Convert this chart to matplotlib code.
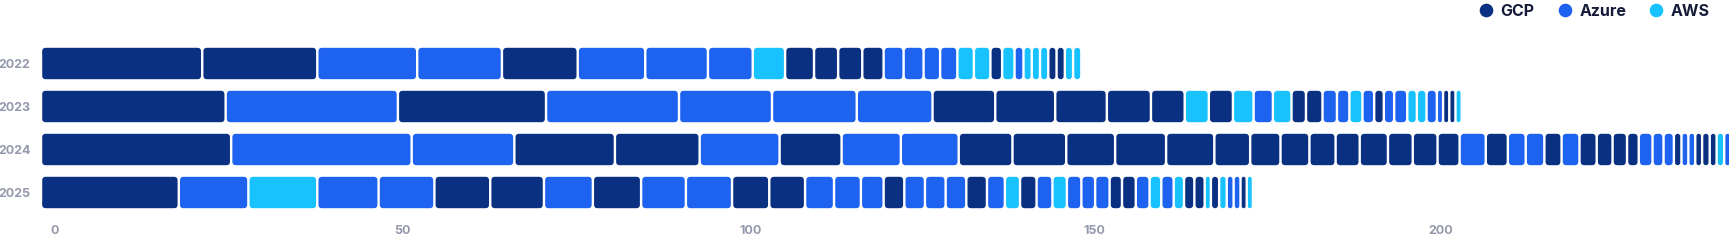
import matplotlib
matplotlib.use('Agg')
import matplotlib.pyplot as plt
import numpy as np
from matplotlib.patches import FancyBboxPatch
from matplotlib.lines import Line2D
from matplotlib.transforms import ScaledTranslation

# data
years = ['2022', '2023', '2024', '2025']
providers = ['GCP', 'Azure', 'AWS']

vals_2022 = [23.4, 16.7, 14.5, 12.3, 11.0, 9.8, 9.1, 6.5, 4.7, 4.2, 3.5, 3.5, 3.1, 2.9, 2.9,
             2.4, 2.5, 2.4, 2.4, 1.7, 1.8, 1.3, 1.2, 1.2, 1.2, 1.2, 1.2, 1.2, 1.2]
prov_2022 = ['GCP', 'GCP', 'Azure', 'Azure', 'GCP', 'Azure', 'Azure', 'Azure', 'AWS', 'GCP',
             'GCP', 'GCP', 'GCP', 'Azure', 'Azure', 'Azure', 'Azure', 'AWS', 'AWS', 'GCP',
             'AWS', 'Azure', 'AWS', 'AWS', 'AWS', 'GCP', 'GCP', 'AWS', 'AWS']

vals_2023 = [26.8, 25.0, 21.5, 19.3, 13.5, 12.3, 11.0, 9.1, 8.7, 7.5, 6.4, 4.9, 3.5, 3.5, 3.0,
             2.8, 2.7, 2.1, 2.4, 2.1, 1.8, 1.9, 1.7, 1.4, 1.5, 1.9, 1.4, 1.4, 1.5, 0.9, 0.9,
             0.9, 0.9]
prov_2023 = ['GCP', 'Azure', 'GCP', 'Azure', 'Azure', 'Azure', 'Azure', 'GCP', 'GCP', 'GCP',
             'GCP', 'GCP', 'AWS', 'GCP', 'AWS', 'Azure', 'AWS', 'GCP', 'GCP', 'Azure', 'Azure',
             'AWS', 'Azure', 'GCP', 'Azure', 'Azure', 'AWS', 'AWS', 'Azure', 'Azure', 'GCP',
             'GCP', 'AWS']

vals_2024 = [27.6, 26.2, 14.9, 14.6, 12.3, 11.6, 9.0, 8.6, 8.4, 7.8, 7.8, 7.1, 7.4, 7.0, 5.2,
             4.4, 4.2, 3.8, 3.5, 4.1, 3.6, 3.6, 3.2, 3.8, 3.2, 2.6, 2.7, 2.5, 2.6, 2.5, 2.3,
             2.1, 1.7, 2.0, 1.6, 1.5, 1.1, 1.0, 1.0, 1.0, 1.1, 1.0, 1.1, 1.0]
prov_2024 = ['GCP', 'Azure', 'Azure', 'GCP', 'GCP', 'Azure', 'GCP', 'Azure', 'Azure'] + \
            ['GCP'] * 14 + ['Azure', 'GCP', 'Azure', 'Azure', 'GCP', 'Azure'] + ['GCP'] * 4 + \
            ['Azure'] * 3 + ['GCP', 'Azure', 'Azure'] + ['GCP'] * 3 + ['AWS', 'Azure']

vals_2025 = [20.0, 10.1, 10.0, 8.9, 8.1, 8.1, 7.8, 7.1, 7.0, 6.5, 6.7, 5.4, 5.2, 4.2, 3.9,
             3.3, 3.0, 3.0, 3.0, 3.0, 3.0, 2.6, 2.2, 2.4, 2.3, 2.1, 2.1, 2.0, 2.1, 1.8, 2.0,
             2.0, 1.7, 1.8, 1.5, 1.5, 1.5, 0.9, 1.2, 1.1, 1.0, 1.0, 0.9, 0.9]
prov_2025 = ['GCP', 'Azure', 'AWS', 'Azure', 'Azure', 'GCP', 'GCP', 'Azure', 'GCP', 'Azure',
             'Azure', 'GCP', 'GCP', 'Azure', 'Azure', 'Azure', 'GCP', 'Azure', 'Azure', 'Azure',
             'GCP', 'Azure', 'AWS', 'GCP', 'Azure', 'AWS', 'Azure', 'Azure', 'Azure', 'GCP',
             'GCP', 'Azure', 'AWS', 'Azure', 'AWS', 'GCP', 'GCP', 'AWS', 'GCP', 'AWS', 'Azure',
             'Azure', 'GCP', 'AWS']

rows = [(vals_2022, prov_2022), (vals_2023, prov_2023),
        (vals_2024, prov_2024), (vals_2025, prov_2025)]

xticks = [0, 50, 100, 150, 200]

colors = {'GCP': '#0A3082', 'Azure': '#1E62F0', 'AWS': '#17C2FE'}
label_grey = '#9499AC'
text_dark = '#161B3A'

plt.rcParams['font.family'] = ['Inter', 'DejaVu Sans']

fig = plt.figure(figsize=(17.29, 2.4), dpi=100)
ax = fig.add_axes([41 / 1729, 1 - 214 / 240, 1 - 41 / 1729, 172 / 240])
ax.set_xlim(0, 245)
ax.set_ylim(3.5, -0.5)

# px per data unit, for rounding and gaps
xpx = ax.get_position().width * fig.get_figwidth() * fig.dpi / 245
ypx = ax.get_position().height * fig.get_figheight() * fig.dpi / 4
gap = 2.4 / xpx
radius = 3.5 / xpx

for i, (vals, provs) in enumerate(rows):
    lefts = np.concatenate([[0], np.cumsum(vals)[:-1]])
    bars = ax.barh(i, vals, left=lefts, height=0.73,
                   color=[colors[p] for p in provs])
    for b in bars:
        x0, y0 = b.get_x(), b.get_y()
        w, h = b.get_width(), b.get_height()
        fc = b.get_facecolor()
        b.remove()
        r = min(radius, (w - gap) / 2)
        p = FancyBboxPatch((x0 + gap / 2, y0), w - gap, h,
                           boxstyle='round,pad=0,rounding_size=%f' % r,
                           mutation_aspect=xpx / ypx,
                           facecolor=fc, edgecolor='none')
        ax.add_patch(p)

for s in ax.spines.values():
    s.set_visible(False)

ax.set_yticks(range(len(years)))
ax.set_yticklabels(years)
ax.set_xticks(xticks)
ax.set_xticklabels([str(t) for t in xticks])
ax.tick_params(axis='both', length=0, labelsize=9, labelcolor=label_grey)
ax.tick_params(axis='y', pad=7.5)
ax.tick_params(axis='x', pad=8)
for lab in ax.get_xticklabels():
    lab.set_horizontalalignment('left')
    lab.set_transform(lab.get_transform() + ScaledTranslation(9 / 100, 0, fig.dpi_scale_trans))
    lab.set_fontweight('bold')
for lab in ax.get_yticklabels():
    lab.set_fontweight('bold')

handles = [Line2D([], [], marker='o', linestyle='', markersize=8.8,
                  color=colors[p]) for p in providers]
fig.legend(handles, providers, loc='center right', bbox_to_anchor=(1710 / 1729, 1 - 11 / 240),
           ncol=3, frameon=False, handlelength=0.75, handletextpad=0.55,
           columnspacing=1.5, borderpad=0, borderaxespad=0,
           prop={'weight': 'bold', 'size': 11.5})
for t in fig.legends[0].get_texts():
    t.set_color(text_dark)

fig.savefig('out.png', dpi=100)
